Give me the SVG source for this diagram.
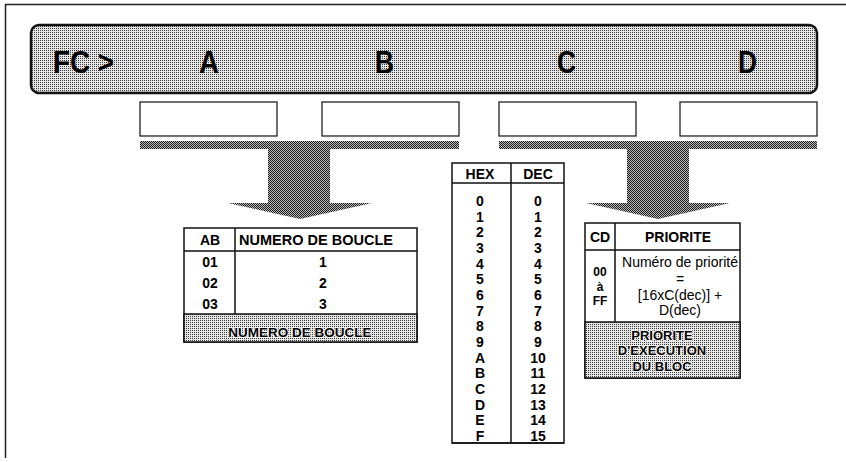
<svg xmlns="http://www.w3.org/2000/svg" width="846" height="462" viewBox="0 0 846 462">
<style>
  .t { font-family: "Liberation Sans", Arial, sans-serif; fill: #000; }
  .b { font-weight: bold; }
  .big { font-size: 32px; font-weight: bold; }
  .m { text-anchor: middle; }
  .line { fill: none; stroke: #111; stroke-width: 1.5; }
  .cell { fill: #fff; stroke: #111; stroke-width: 1.5; }
  .box { fill: #fff; stroke: #222; stroke-width: 1.3; }
  .halo { stroke: #fff; stroke-width: 1.6; paint-order: stroke; stroke-linejoin: round; }
</style>
<defs>
  <pattern id="lt" width="2" height="2" patternUnits="userSpaceOnUse">
    <rect width="2" height="2" fill="#e6e6e6"/>
    <rect width="1" height="1" fill="#3a3a3a"/>
  </pattern>
  <pattern id="dk" width="2" height="2" patternUnits="userSpaceOnUse">
    <rect width="2" height="2" fill="#b8b8b8"/>
    <rect width="1" height="1" fill="#1e1e1e"/>
    <rect x="1" y="1" width="1" height="1" fill="#1e1e1e"/>
  </pattern>
</defs>
<rect width="846" height="462" fill="#fff"/>

<g id="frame">
  <path d="M5.5,458 V4.5 H846" fill="none" stroke="#222" stroke-width="1.5"/>
</g>

<g id="command-bar">
  <rect x="31" y="25" width="786" height="68" rx="8" ry="8" fill="url(#lt)" stroke="#111" stroke-width="2.5"/>
  <text class="t big" x="53" y="73" textLength="61" lengthAdjust="spacingAndGlyphs">FC &gt;</text>
  <text class="t big" x="199" y="73" textLength="20" lengthAdjust="spacingAndGlyphs">A</text>
  <text class="t big" x="375" y="73" textLength="19" lengthAdjust="spacingAndGlyphs">B</text>
  <text class="t big" x="557" y="73" textLength="19" lengthAdjust="spacingAndGlyphs">C</text>
  <text class="t big" x="738" y="73" textLength="19" lengthAdjust="spacingAndGlyphs">D</text>
</g>

<g id="fields">
  <rect class="box" x="140" y="102" width="137" height="34"/>
  <rect class="box" x="322" y="102" width="137" height="34"/>
  <rect class="box" x="499" y="102" width="137" height="34"/>
  <rect class="box" x="680" y="102" width="137" height="34"/>
</g>

<g id="connectors">
  <path d="M140,141 H459 V149 H330 V203 H372 L300,219 L228,203 H268 V149 H140 Z" fill="url(#dk)"/>
  <path d="M499,141 H817 V149 H689 V203 H730 L658,219 L586,203 H627 V149 H499 Z" fill="url(#dk)"/>
</g>

<g id="table-ab">
  <rect class="cell" x="184" y="228" width="233" height="114"/>
  <rect x="184" y="314" width="233" height="28" fill="url(#lt)" stroke="#111" stroke-width="1.5"/>
  <path class="line" d="M184,251 H417 M235,228 V314"/>
  <text class="t b m" x="210" y="245" font-size="14">AB</text>
  <text class="t b m" x="316" y="245" font-size="14.5">NUMERO DE BOUCLE</text>
  <text class="t b m" x="210" y="267" font-size="14">01</text>
  <text class="t b m" x="210" y="288" font-size="14">02</text>
  <text class="t b m" x="210" y="309" font-size="14">03</text>
  <text class="t b m" x="323" y="267" font-size="14">1</text>
  <text class="t b m" x="323" y="288" font-size="14">2</text>
  <text class="t b m" x="323" y="309" font-size="14">3</text>
  <text class="t b m halo" x="300" y="337" font-size="13.5">NUMERO DE BOUCLE</text>
</g>

<g id="table-hex">
  <rect class="cell" x="452" y="163" width="112" height="280"/>
  <path class="line" d="M452,183 H564 M511,163 V443"/>
  <text class="t b m" x="480" y="179" font-size="14">HEX</text>
  <text class="t b m" x="538" y="179" font-size="14">DEC</text>
  <g class="t b m" font-size="14">
    <text x="480" y="206">0</text><text x="538" y="206">0</text>
    <text x="480" y="221.7">1</text><text x="538" y="221.7">1</text>
    <text x="480" y="237.3">2</text><text x="538" y="237.3">2</text>
    <text x="480" y="253">3</text><text x="538" y="253">3</text>
    <text x="480" y="268.6">4</text><text x="538" y="268.6">4</text>
    <text x="480" y="284.3">5</text><text x="538" y="284.3">5</text>
    <text x="480" y="299.9">6</text><text x="538" y="299.9">6</text>
    <text x="480" y="315.6">7</text><text x="538" y="315.6">7</text>
    <text x="480" y="331.2">8</text><text x="538" y="331.2">8</text>
    <text x="480" y="346.9">9</text><text x="538" y="346.9">9</text>
    <text x="480" y="362.5">A</text><text x="538" y="362.5">10</text>
    <text x="480" y="378.2">B</text><text x="538" y="378.2">11</text>
    <text x="480" y="393.8">C</text><text x="538" y="393.8">12</text>
    <text x="480" y="409.5">D</text><text x="538" y="409.5">13</text>
    <text x="480" y="425.1">E</text><text x="538" y="425.1">14</text>
    <text x="480" y="440.8">F</text><text x="538" y="440.8">15</text>
  </g>
  <path class="line" d="M452,443 H564"/>
</g>

<g id="table-cd">
  <rect class="cell" x="585" y="223" width="155" height="155"/>
  <rect x="585" y="322" width="155" height="56" fill="url(#lt)" stroke="#111" stroke-width="1.5"/>
  <path class="line" d="M585,250 H740 M615,223 V322"/>
  <text class="t b m" x="600" y="242" font-size="14">CD</text>
  <text class="t b m" x="678" y="242" font-size="14">PRIORITE</text>
  <text class="t b m" x="600" y="276" font-size="12">00</text>
  <text class="t b m" x="600" y="290.5" font-size="12">à</text>
  <text class="t b m" x="600" y="305" font-size="12">FF</text>
  <text class="t m" x="680" y="267" font-size="14">Numéro de priorité</text>
  <text class="t m" x="680" y="284" font-size="14">=</text>
  <text class="t m" x="680" y="300" font-size="14">[16xC(dec)] +</text>
  <text class="t m" x="680" y="315" font-size="14">D(dec)</text>
  <text class="t b m halo" x="662" y="340" font-size="13">PRIORITE</text>
  <text class="t b m halo" x="662" y="355" font-size="13">D'EXECUTION</text>
  <text class="t b m halo" x="662" y="371" font-size="13">DU BLOC</text>
</g>
</svg>
